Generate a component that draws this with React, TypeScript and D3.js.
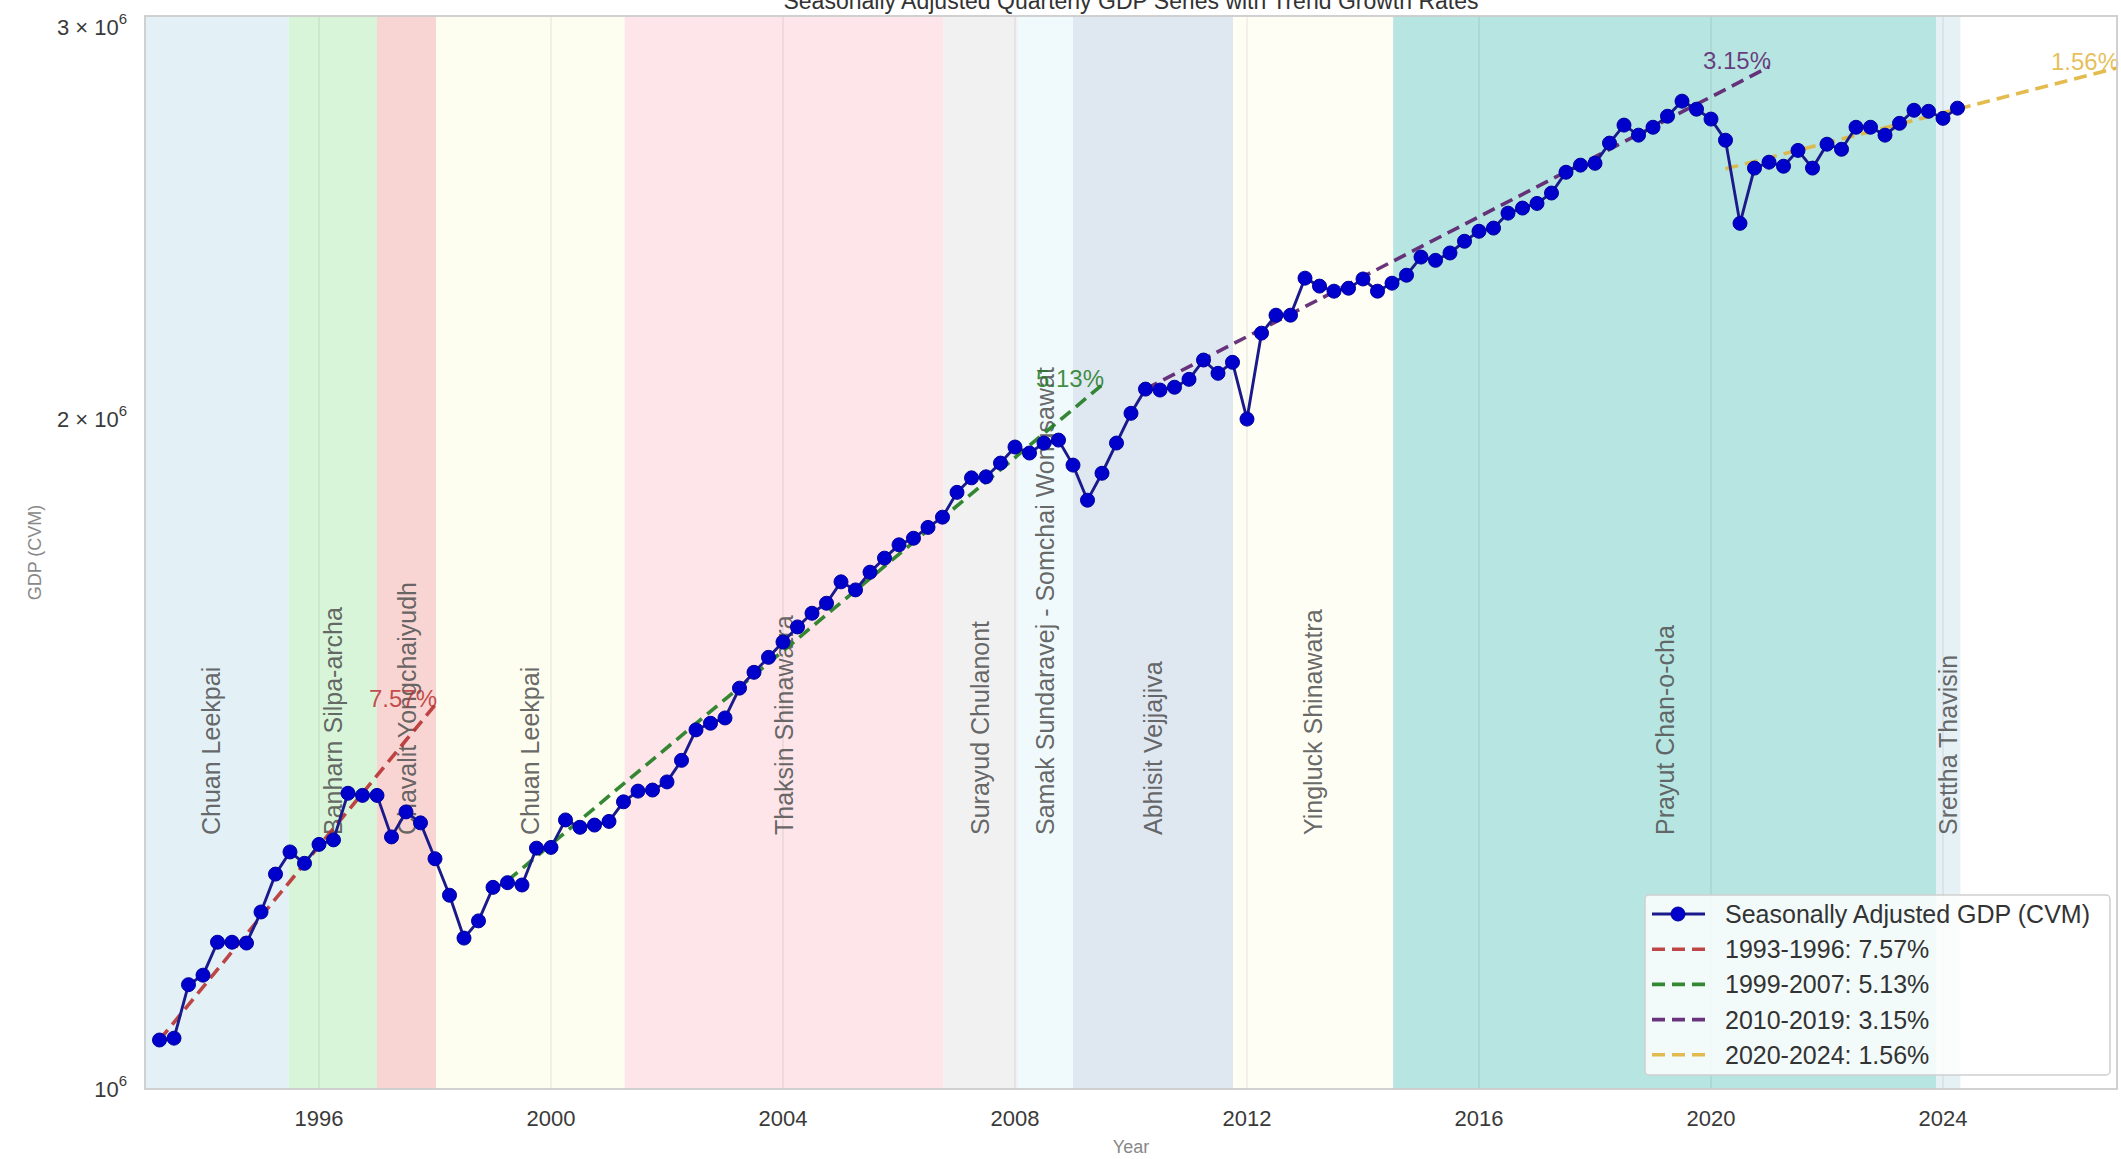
import React, { useEffect, useRef } from 'react';
import * as d3 from 'd3';

// seasonally adjusted quarterly GDP, chain volume measures, 1993Q1 .. 2024Q1
const gdp = [
  1052000, 1054000, 1114000, 1125000, 1164000, 1164000, 1163000, 1201000,
  1249000, 1278000, 1263000, 1288000, 1294000, 1358000, 1355000, 1355000,
  1298000, 1332000, 1317000, 1269000, 1222000, 1169000, 1190000, 1232000,
  1238000, 1235000, 1283000, 1284000, 1321000, 1311000, 1314000, 1319000,
  1346000, 1361000, 1362500, 1374000, 1405000, 1450000, 1460000, 1468000,
  1514000, 1539000, 1563000, 1588000, 1613000, 1636000, 1653000, 1690000,
  1676000, 1707000, 1732000, 1756000, 1768000, 1788000, 1807000, 1854000,
  1882000, 1884000, 1911000, 1943000, 1931000, 1951000, 1957000, 1907000,
  1839000, 1891000, 1951000, 2012000, 2063000, 2061000, 2067000, 2084000,
  2126000, 2097000, 2121000, 2000000, 2186000, 2227000, 2227000, 2314000,
  2295000, 2283000, 2290000, 2312000, 2283000, 2302000, 2321000, 2365000,
  2357000, 2375000, 2404000, 2429000, 2437000, 2475000, 2488000, 2500000,
  2527000, 2582000, 2601000, 2606000, 2661000, 2711000, 2683000, 2705000,
  2736000, 2779000, 2756000, 2728000, 2669000, 2449000, 2593000, 2609000,
  2598000, 2641000, 2593000, 2658000, 2644000, 2705000, 2705000, 2683000,
  2716000, 2753000, 2750000, 2730000, 2759000,
];
const firstQuarterEnd = 1993.25;

const pmNames = [
  'Chuan Leekpai', 'Banharn Silpa-archa', 'Chavalit Yongchaiyudh', 'Chuan Leekpai',
  'Thaksin Shinawatra', 'Surayud Chulanont', 'Samak Sundaravej - Somchai Wongsawat',
  'Abhisit Vejjajiva', 'Yingluck Shinawatra', 'Prayut Chan-o-cha', 'Srettha Thavisin',
];
const pmStart = [1992.8, 1995.48, 1997.0, 1998.02, 2001.27, 2006.76, 2008.05, 2009.0, 2011.76, 2014.52, 2023.88];
const pmEnd = [1995.48, 1997.0, 1998.02, 2001.27, 2006.76, 2008.05, 2009.0, 2011.76, 2014.52, 2023.88, 2024.3];
const pmColors = [
  '#e3f1f7', '#d9f5d9', '#f8d5d3', '#fdfdf0', '#fde5e9', '#f1f1f1',
  '#f0fafc', '#dfe7f1', '#fffef4', '#b7e5e1', '#e6f1f5',
];

const trendNames = ['1993-1996', '1999-2007', '2010-2019', '2020-2024'];
const trendRates = [7.57, 5.13, 3.15, 1.56];
const trendFrom = [1993.25, 1999.25, 2010.25, 2020.25];
const trendTo = [1998.0, 2009.5, 2021.0, 2027.0];
const trendBase = [1052000, 1240600, 2063000, 2591000];
const trendColors = ['#b83232', '#1e7b1e', '#5a1e6e', '#e0b43c'];

const yearTicks = [1996, 2000, 2004, 2008, 2012, 2016, 2020, 2024];
const gdpTicks = [1e6, 2e6, 3e6];
const gdpTickMantissa = ['', '2', '3'];

const FONT = '"Liberation Sans", Arial, sans-serif';

export default function App() {
  const svgRef = useRef<SVGSVGElement>(null);

  useEffect(() => {
    if (!svgRef.current) return;
    const svg = d3.select(svgRef.current);
    svg.selectAll('*').remove();

    const left = 145, right = 2117, top = 16, bottom = 1089;
    const x = d3.scaleLinear().domain([1993, 2027]).range([left, right]);
    const y = d3.scaleLog().domain([1e6, 3.035e6]).range([bottom, top]);

    svg.append('rect').attr('width', 2121).attr('height', 1159).attr('fill', '#fff');

    svg.append('defs').append('clipPath').attr('id', 'plot')
      .append('rect').attr('x', left).attr('y', top)
      .attr('width', right - left).attr('height', bottom - top);

    const plot = svg.append('g').attr('clip-path', 'url(#plot)');

    // government bands
    plot.selectAll('rect.band')
      .data(pmNames)
      .join('rect')
      .attr('class', 'band')
      .attr('x', (_, i) => x(pmStart[i]))
      .attr('width', (_, i) => x(pmEnd[i]) - x(pmStart[i]))
      .attr('y', top)
      .attr('height', bottom - top)
      .attr('fill', (_, i) => pmColors[i]);

    // vertical grid
    plot.selectAll('line.grid')
      .data(yearTicks)
      .join('line')
      .attr('class', 'grid')
      .attr('x1', d => x(d)).attr('x2', d => x(d))
      .attr('y1', top).attr('y2', bottom)
      .attr('stroke', '#000')
      .attr('stroke-opacity', 0.07)
      .attr('stroke-width', 1.5);

    // band labels
    plot.selectAll('text.pm')
      .data(pmNames)
      .join('text')
      .attr('class', 'pm')
      .attr('transform', (_, i) => `translate(${x((pmStart[i] + pmEnd[i]) / 2)},835) rotate(-90)`)
      .attr('dominant-baseline', 'central')
      .attr('font-family', FONT)
      .attr('font-size', 25)
      .attr('fill', '#555')
      .attr('fill-opacity', 0.9)
      .text(d => d);

    // trend lines
    const trendY = (i: number, t: number) =>
      trendBase[i] * Math.pow(1 + trendRates[i] / 100, t - trendFrom[i]);

    trendNames.forEach((_, i) => {
      plot.append('line')
        .attr('x1', x(trendFrom[i])).attr('y1', y(trendY(i, trendFrom[i])))
        .attr('x2', x(trendTo[i])).attr('y2', y(trendY(i, trendTo[i])))
        .attr('stroke', trendColors[i])
        .attr('stroke-opacity', 0.9)
        .attr('stroke-width', 3.6)
        .attr('stroke-dasharray', '13 7');
    });

    // gdp series
    const pts = gdp.map((v, i) => [x(firstQuarterEnd + i / 4), y(v)] as [number, number]);
    plot.append('path')
      .attr('d', d3.line()(pts))
      .attr('fill', 'none')
      .attr('stroke', '#1a1a8c')
      .attr('stroke-width', 2.9);
    plot.selectAll('circle.pt')
      .data(pts)
      .join('circle')
      .attr('class', 'pt')
      .attr('cx', d => d[0]).attr('cy', d => d[1])
      .attr('r', 7)
      .attr('fill', '#0000cc')
      .attr('stroke', '#0000a0')
      .attr('stroke-width', 1);

    // trend labels
    trendNames.forEach((_, i) => {
      svg.append('text')
        .attr('x', x(trendTo[i]) + 2)
        .attr('y', y(trendY(i, trendTo[i])) + 2)
        .attr('text-anchor', 'end')
        .attr('font-family', FONT)
        .attr('font-size', 24)
        .attr('fill', trendColors[i])
        .attr('fill-opacity', 0.85)
        .text(`${trendRates[i].toFixed(2)}%`);
    });

    // frame
    svg.append('rect')
      .attr('x', left).attr('y', top)
      .attr('width', right - left).attr('height', bottom - top)
      .attr('fill', 'none')
      .attr('stroke', '#cccccc')
      .attr('stroke-width', 1.8);

    // x ticks
    svg.selectAll('text.xt')
      .data(yearTicks)
      .join('text')
      .attr('class', 'xt')
      .attr('x', d => x(d))
      .attr('y', 1126)
      .attr('text-anchor', 'middle')
      .attr('font-family', FONT)
      .attr('font-size', 22)
      .attr('fill', '#3a3a3a')
      .text(d => String(d));

    // y ticks (log, sci notation)
    gdpTicks.forEach((t, i) => {
      const txt = svg.append('text')
        .attr('x', 127)
        .attr('y', y(t) + 8)
        .attr('text-anchor', 'end')
        .attr('font-family', FONT)
        .attr('font-size', 22)
        .attr('fill', '#3a3a3a');
      txt.append('tspan').text(gdpTickMantissa[i] ? `${gdpTickMantissa[i]} \u00d7 10` : '10');
      txt.append('tspan').attr('font-size', 15).attr('dy', -11).text('6');
    });

    // axis titles
    svg.append('text')
      .attr('x', (left + right) / 2).attr('y', 1153)
      .attr('text-anchor', 'middle')
      .attr('font-family', FONT).attr('font-size', 18)
      .attr('fill', '#888')
      .text('Year');
    svg.append('text')
      .attr('transform', `translate(35,${(top + bottom) / 2}) rotate(-90)`)
      .attr('text-anchor', 'middle')
      .attr('dominant-baseline', 'central')
      .attr('font-family', FONT).attr('font-size', 18)
      .attr('fill', '#888')
      .text('GDP (CVM)');
    svg.append('text')
      .attr('x', (left + right) / 2).attr('y', 9)
      .attr('text-anchor', 'middle')
      .attr('font-family', FONT).attr('font-size', 23)
      .attr('fill', '#333')
      .text('Seasonally Adjusted Quarterly GDP Series with Trend Growth Rates');

    // legend
    const lg = svg.append('g').attr('transform', 'translate(1645,895)');
    lg.append('rect')
      .attr('width', 465).attr('height', 180).attr('rx', 4)
      .attr('fill', '#fff').attr('fill-opacity', 0.82)
      .attr('stroke', '#d0d0d0').attr('stroke-width', 1.5);
    const rows = ['Seasonally Adjusted GDP (CVM)', ...trendNames.map((n, i) => `${n}: ${trendRates[i].toFixed(2)}%`)];
    rows.forEach((label, i) => {
      const ry = 19 + i * 35.2;
      if (i === 0) {
        lg.append('line').attr('x1', 7).attr('x2', 60).attr('y1', ry).attr('y2', ry)
          .attr('stroke', '#1a1a8c').attr('stroke-width', 2.9);
        lg.append('circle').attr('cx', 33).attr('cy', ry).attr('r', 7)
          .attr('fill', '#0000cc').attr('stroke', '#0000a0');
      } else {
        lg.append('line').attr('x1', 7).attr('x2', 60).attr('y1', ry).attr('y2', ry)
          .attr('stroke', trendColors[i - 1]).attr('stroke-opacity', 0.9)
          .attr('stroke-width', 3.6).attr('stroke-dasharray', '13 7');
      }
      lg.append('text')
        .attr('x', 80).attr('y', ry)
        .attr('dominant-baseline', 'central')
        .attr('font-family', FONT).attr('font-size', 25)
        .attr('fill', '#333')
        .text(label);
    });
  }, []);

  return (
    <div style={{ position: 'absolute', left: 0, top: 0 }}>
      <svg ref={svgRef} width={2121} height={1159} style={{ display: 'block' }} />
    </div>
  );
}
